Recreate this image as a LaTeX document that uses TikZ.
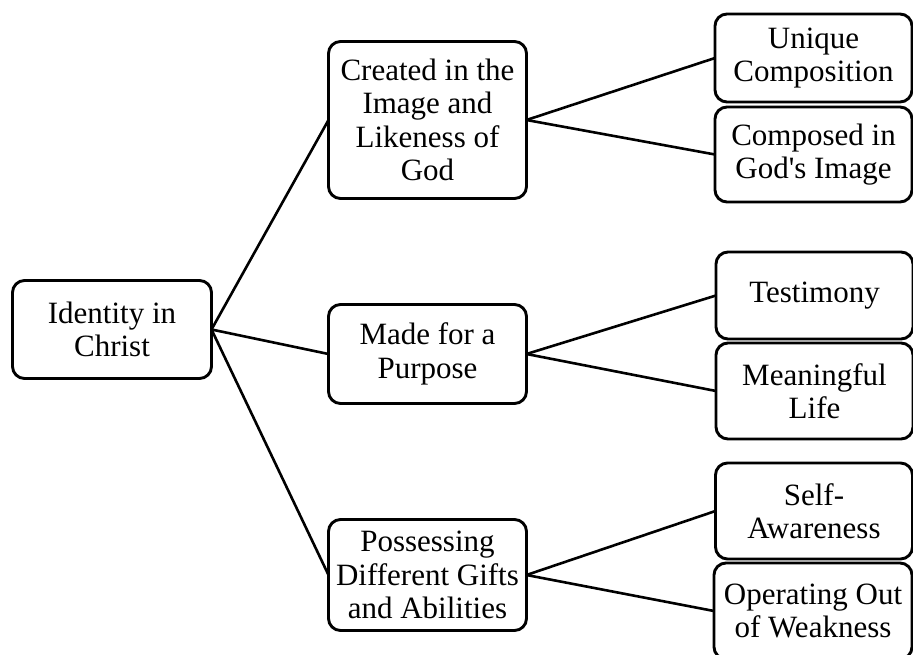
\documentclass[tikz,border=0pt]{standalone}
\usepackage{fontspec}
% plain family: no TeX quote mapping, so ' stays a straight apostrophe
\newfontfamily\boxfont{Liberation Serif}
\begin{document}
\begin{tikzpicture}[x=1pt,y=-1pt,
  box/.style={draw=black, line width=2.9pt, rounded corners=12pt, fill=white,
    align=center, inner sep=0pt, outer sep=0pt,
    font=\boxfont\fontsize{31}{33.5}\selectfont},
  link/.style={draw=black, line width=2.6pt}]
\useasboundingbox (0,0) rectangle (913,655);
\fill[white] (0,0) rectangle (913,655);

% root
\node[box, minimum width=199pt, minimum height=98pt] (root) at (112,329.5) {Identity in\\Christ};

% second level
\node[box, minimum width=198pt, minimum height=157pt] (c1) at (427.5,120) {Created in the\\Image and\\Likeness of\\God};
\node[box, minimum width=198pt, minimum height=99pt] (c2) at (427.5,354) {Made for a\\Purpose};
\node[box, minimum width=198pt, minimum height=111pt] (c3) at (427.5,575) {Possessing\\Different Gifts\\and Abilities};

% leaves
\node[box, minimum width=197pt, minimum height=88pt] (l1) at (813.5,58) {Unique\\Composition};
\node[box, minimum width=197pt, minimum height=95pt] (l2) at (813.5,154.5) {Composed in\\God's Image};
\node[box, minimum width=197pt, minimum height=87pt] (l3) at (814.5,295.5) {Testimony};
\node[box, minimum width=197pt, minimum height=96pt] (l4) at (814.5,391) {Meaningful\\Life};
\node[box, minimum width=197pt, minimum height=96pt] (l5) at (814,511) {Self-\\Awareness};
\node[box, minimum width=198pt, minimum height=96pt] (l6) at (813,611) {Operating Out\\of Weakness};

% connectors
\draw[link] (root.east) -- (c1.west);
\draw[link] (root.east) -- (c2.west);
\draw[link] (root.east) -- (c3.west);
\draw[link] (c1.east) -- (l1.west);
\draw[link] (c1.east) -- (l2.west);
\draw[link] (c2.east) -- (l3.west);
\draw[link] (c2.east) -- (l4.west);
\draw[link] (c3.east) -- (l5.west);
\draw[link] (c3.east) -- (l6.west);
\end{tikzpicture}
\end{document}
